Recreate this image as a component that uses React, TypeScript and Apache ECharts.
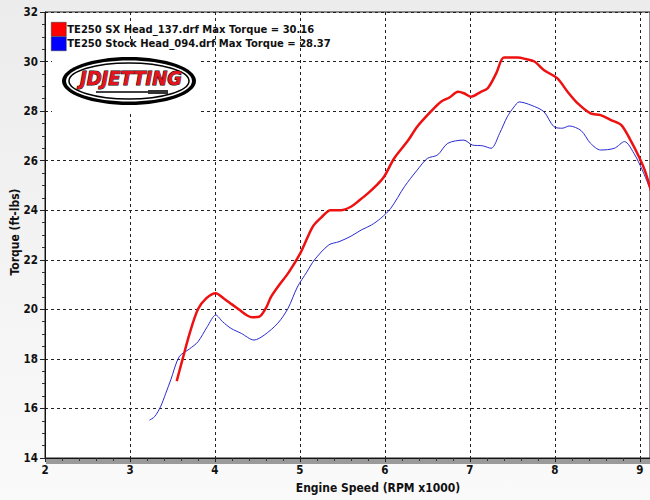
import React, { useEffect, useRef } from "react";
import * as echarts from "echarts";

const sxName = "TE250 SX Head_137.drf Max Torque = 30.16";
const stockName = "TE250 Stock Head_094.drf Max Torque = 28.37";
const yTitle = "Torque (ft-lbs)";
const xTitle = "Engine Speed (RPM x1000)";

const sxRpm = [3.55, 3.62, 3.7, 3.8, 3.9, 4.01, 4.1, 4.2, 4.3, 4.38, 4.44, 4.52, 4.6, 4.66, 4.76, 4.87, 5.01, 5.15, 5.25, 5.36, 5.48, 5.6, 5.7, 5.8, 5.9, 5.99, 6.11, 6.27, 6.38, 6.54, 6.66, 6.76, 6.86, 6.93, 7.01, 7.13, 7.21, 7.31, 7.4, 7.48, 7.56, 7.66, 7.76, 7.87, 8.03, 8.15, 8.27, 8.42, 8.54, 8.66, 8.78, 8.89, 8.99, 9.06, 9.13];
const sxTorque = [17.1, 18.0, 19.0, 20.0, 20.45, 20.65, 20.45, 20.2, 19.95, 19.75, 19.68, 19.7, 20.05, 20.5, 21.0, 21.5, 22.3, 23.33, 23.7, 24.0, 24.0, 24.14, 24.4, 24.68, 25.0, 25.35, 26.1, 26.8, 27.37, 27.98, 28.38, 28.55, 28.78, 28.72, 28.58, 28.78, 28.92, 29.52, 30.16, 30.16, 30.16, 30.1, 30.0, 29.66, 29.32, 28.78, 28.31, 27.91, 27.84, 27.64, 27.44, 26.83, 26.16, 25.6, 24.8];

const stockRpm = [3.23, 3.29, 3.36, 3.42, 3.48, 3.58, 3.7, 3.8, 3.91, 4.01, 4.09, 4.19, 4.31, 4.46, 4.58, 4.74, 4.86, 4.97, 5.08, 5.17, 5.34, 5.46, 5.6, 5.72, 5.84, 5.95, 6.07, 6.23, 6.38, 6.5, 6.62, 6.74, 6.93, 7.03, 7.15, 7.25, 7.35, 7.44, 7.52, 7.58, 7.72, 7.87, 7.99, 8.09, 8.17, 8.31, 8.42, 8.54, 8.7, 8.82, 8.93, 9.03, 9.11];
const stockTorque = [15.53, 15.67, 16.07, 16.6, 17.15, 18.09, 18.4, 18.69, 19.3, 19.77, 19.5, 19.23, 19.03, 18.76, 18.96, 19.44, 20.04, 20.9, 21.5, 21.99, 22.6, 22.73, 22.95, 23.2, 23.4, 23.67, 24.08, 24.95, 25.62, 26.09, 26.23, 26.7, 26.83, 26.63, 26.6, 26.5, 27.1, 27.77, 28.17, 28.37, 28.24, 27.98, 27.37, 27.31, 27.4, 27.21, 26.7, 26.43, 26.5, 26.77, 26.3, 25.62, 24.95];

const FONT = "'DejaVu Sans Condensed', 'DejaVu Sans', sans-serif";

export default function App() {
  const ref = useRef<HTMLDivElement>(null);
  useEffect(() => {
    if (!ref.current) return;
    const chart = echarts.init(ref.current, null, { renderer: "svg" });
    const pairs = (xs: number[], ys: number[]) => xs.map((x, i) => [x, ys[i]]);
    const axisText = { color: "#111", fontWeight: "bold" as const, fontSize: 11.5, fontFamily: FONT };
    chart.setOption({
      animation: false,
      backgroundColor: new echarts.graphic.LinearGradient(0, 0, 0, 1, [
        { offset: 0, color: "#ececec" },
        { offset: 1, color: "#fafafa" },
      ]),
      grid: {
        left: 45,
        right: 0,
        top: 12,
        bottom: 42,
        containLabel: false,
        outerBoundsMode: "none",
        show: true,
        backgroundColor: "#ffffff",
        borderColor: "#222",
        borderWidth: 1,
      },
      legend: {
        left: 46,
        top: 17,
        orient: "vertical",
        itemWidth: 15,
        itemHeight: 14,
        itemGap: 0,
        icon: "rect",
        textStyle: {
          color: "#111",
          fontWeight: "bold",
          fontSize: 10,
          fontFamily: "'DejaVu Sans', sans-serif",
          padding: [0, 0, 0, -4],
        },
        data: [
          { name: sxName, itemStyle: { color: "#ff0000", borderColor: "#333", borderWidth: 0.5 } },
          { name: stockName, itemStyle: { color: "#0000ff", borderColor: "#333", borderWidth: 0.5 } },
        ],
      },
      xAxis: {
        type: "value",
        min: 2,
        max: 9.12,
        interval: 1,
        axisLine: { show: true, lineStyle: { color: "#111", width: 1 } },
        axisTick: { show: true, length: 4, lineStyle: { color: "#222" } },
        minorTick: { show: true, splitNumber: 5, length: 3, lineStyle: { color: "#333" } },
        axisLabel: { ...axisText, margin: 6, showMaxLabel: false },
        splitLine: { show: true, lineStyle: { color: "#222", type: [3, 3], width: 1 } },
      },
      yAxis: {
        type: "value",
        min: 14,
        max: 32,
        interval: 2,
        axisLine: { show: true, lineStyle: { color: "#111", width: 1 } },
        axisTick: { show: true, length: 5, lineStyle: { color: "#222" } },
        minorTick: { show: true, splitNumber: 4, length: 3, lineStyle: { color: "#333" } },
        axisLabel: { ...axisText, margin: 7 },
        splitLine: { show: true, lineStyle: { color: "#222", type: [3, 3], width: 1 } },
      },
      graphic: [
        { type: "rect", shape: { x: 46, y: 459, width: 604, height: 5 }, style: { fill: "#9a9a9a" }, z: 0 },
        { type: "rect", shape: { x: 52, y: 46, width: 148, height: 66 }, style: { fill: "#ffffff" }, z: 1 },
        { type: "ellipse", shape: { cx: 129, cy: 81, rx: 67, ry: 24 }, style: { fill: "#000" }, z: 2 },
        { type: "ellipse", shape: { cx: 129, cy: 81, rx: 63, ry: 20.5 }, style: { fill: "#fff" }, z: 3 },
        { type: "ellipse", shape: { cx: 129, cy: 81, rx: 60, ry: 18 }, style: { fill: "#fff", stroke: "#000", lineWidth: 1.5 }, z: 4 },
        { type: "line", shape: { x1: 96, y1: 92, x2: 168, y2: 92 }, style: { stroke: "#000", lineWidth: 1.5 }, z: 5 },
        { type: "rect", shape: { x: 148, y: 90, width: 20, height: 4 }, style: { fill: "#333" }, z: 5 },
        {
          type: "text",
          x: 131,
          y: 78,
          z: 6,
          style: {
            text: "JDJETTING",
            fill: "#e3141c",
            stroke: "#000",
            lineWidth: 1,
            font: "italic bold 20px 'DejaVu Sans Condensed', 'DejaVu Sans', sans-serif",
            align: "center",
            verticalAlign: "middle",
          },
        },
        {
          type: "text",
          x: 15,
          y: 232,
          rotation: Math.PI / 2,
          z: 6,
          style: {
            text: yTitle,
            fill: "#111",
            font: "bold 12px 'DejaVu Sans Condensed', 'DejaVu Sans', sans-serif",
            align: "center",
            verticalAlign: "middle",
          },
        },
        {
          type: "text",
          x: 378,
          y: 488,
          z: 6,
          style: {
            text: xTitle,
            fill: "#111",
            font: "bold 12px 'DejaVu Sans Condensed', 'DejaVu Sans', sans-serif",
            align: "center",
            verticalAlign: "middle",
          },
        },
      ],
      series: [
        {
          name: sxName,
          type: "line",
          data: pairs(sxRpm, sxTorque),
          symbol: "none",
          smooth: 0.3,
          lineStyle: { color: "#ee1111", width: 2.5 },
          itemStyle: { color: "#ff0000" },
          z: 4,
        },
        {
          name: stockName,
          type: "line",
          data: pairs(stockRpm, stockTorque),
          symbol: "none",
          smooth: 0.3,
          lineStyle: { color: "#2a2ad2", width: 1 },
          itemStyle: { color: "#0000ff" },
          z: 3,
        },
      ],
    });
    return () => chart.dispose();
  }, []);
  return (
    <div
      ref={ref}
      style={{ position: "absolute", left: 0, top: 0, width: 650, height: 500 }}
    />
  );
}
